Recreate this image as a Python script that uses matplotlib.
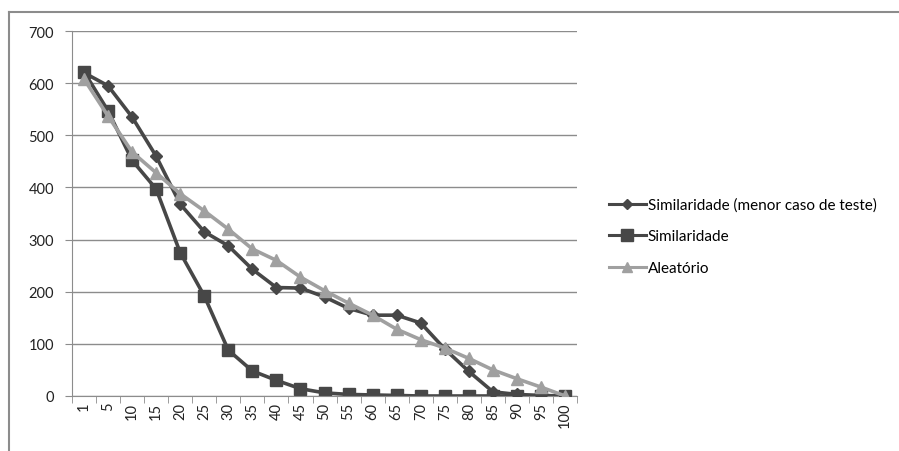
import matplotlib.pyplot as plt
from matplotlib.lines import Line2D

categories = ['1', '5', '10', '15', '20', '25', '30', '35', '40', '45', '50',
              '55', '60', '65', '70', '75', '80', '85', '90', '95', '100']

sim_menor = [620, 595, 535, 460, 368, 315, 288, 243, 208, 207, 190,
             168, 155, 155, 140, 90, 47, 8, 3, 1, 0]
similaridade = [622, 547, 452, 397, 275, 192, 88, 48, 30, 14, 6,
                3, 2, 1, 0, 0, 0, 0, 0, 0, 0]
aleatorio = [608, 537, 468, 428, 388, 355, 320, 282, 260, 228, 202,
             178, 155, 128, 108, 92, 72, 50, 33, 17, 0]

series_names = ['Similaridade (menor caso de teste)', 'Similaridade', 'Aleatório']

plt.rcParams['font.family'] = ['Lato', 'DejaVu Sans']

fig = plt.figure(figsize=(8.99, 4.52), dpi=100)
ax = fig.add_axes([0.080, 0.1217, 0.562, 0.8075])

x = list(range(len(categories)))
ax.plot(x, sim_menor, color='#474747', lw=2.6, marker='D', ms=6,
        label=series_names[0], zorder=3)
ax.plot(x, similaridade, color='#474747', lw=2.6, marker='s', ms=8,
        label=series_names[1], zorder=2)
ax.plot(x, aleatorio, color='#a0a0a0', lw=2.6, marker='^', ms=8,
        label=series_names[2], zorder=4)

ax.set_xlim(-0.5, len(categories) - 0.5)
ax.set_ylim(0, 700)
ax.set_yticks(range(0, 701, 100))
ax.yaxis.grid(True, color='#8c8c8c', lw=1)
ax.set_axisbelow(True)

ax.set_xticks(x)
ax.set_xticklabels(categories, rotation=90, fontsize=10.5, color='#222222')
ax.set_xticks([i - 0.5 for i in range(len(categories) + 1)], minor=True)
ax.tick_params(axis='x', which='major', length=0, pad=4)
ax.tick_params(axis='x', which='minor', length=5, color='#8c8c8c', direction='out')
ax.tick_params(axis='y', length=5, color='#8c8c8c', labelsize=10.5,
               labelcolor='#222222', pad=8)

for side in ['top', 'right']:
    ax.spines[side].set_visible(False)
for side in ['left', 'bottom']:
    ax.spines[side].set_color('#8c8c8c')

handles = [
    Line2D([], [], color='#474747', lw=2.2, marker='D', ms=5),
    Line2D([], [], color='#474747', lw=2.2, marker='s', ms=8),
    Line2D([], [], color='#a0a0a0', lw=2.2, marker='^', ms=7),
]
fig.legend(handles, series_names, loc='center left', bbox_to_anchor=(0.662, 0.475),
           frameon=False, fontsize=11, handlelength=2.4, handletextpad=0.15,
           labelspacing=1.15)

# outer chart frame
fig.add_artist(Line2D([0.0095, 0.0095], [0, 0.972], color='#8c8c8c', lw=1.5,
                      transform=fig.transFigure))
fig.add_artist(Line2D([0.0095, 1.0], [0.972, 0.972], color='#8c8c8c', lw=1.5,
                      transform=fig.transFigure))

fig.savefig('out.png', dpi=100)
